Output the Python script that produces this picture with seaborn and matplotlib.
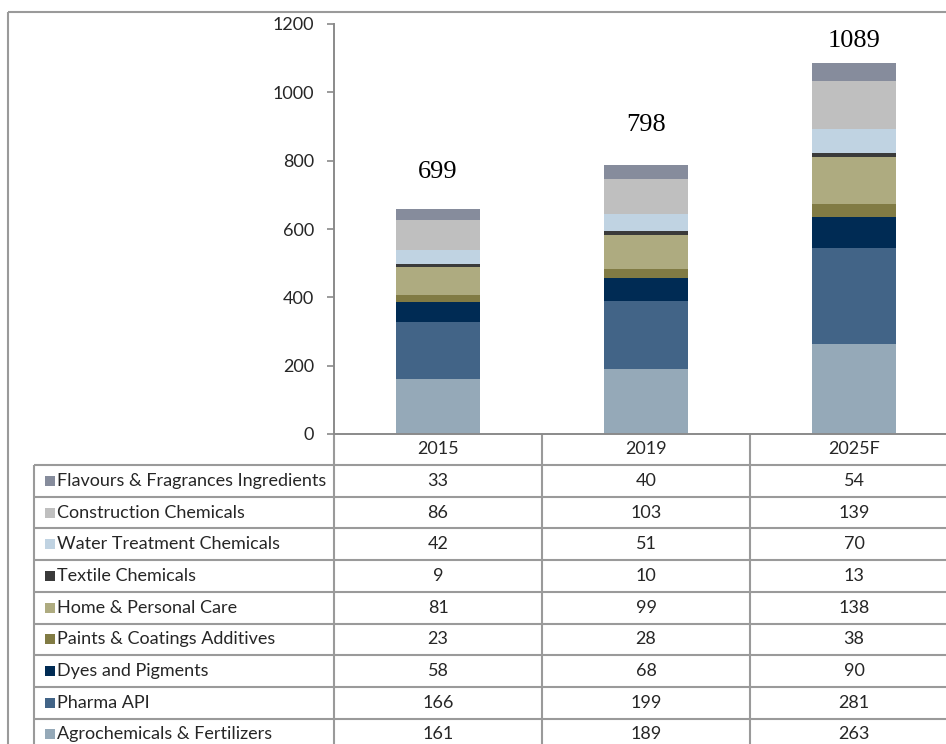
import pandas as pd
import seaborn as sns
import matplotlib.pyplot as plt

years = ["2015", "2019", "2025F"]
segments = [
    "Flavours & Fragrances Ingredients",
    "Construction Chemicals",
    "Water Treatment Chemicals",
    "Textile Chemicals",
    "Home & Personal Care",
    "Paints & Coatings Additives",
    "Dyes and Pigments",
    "Pharma API",
    "Agrochemicals & Fertilizers",
]
flavours = [33, 40, 54]
construction = [86, 103, 139]
water = [42, 51, 70]
textile = [9, 10, 13]
home_care = [81, 99, 138]
paints = [23, 28, 38]
dyes = [58, 68, 90]
pharma = [166, 199, 281]
agro = [161, 189, 263]
totals = [699, 798, 1089]

colors = ["#868c9c", "#bfbfbf", "#c0d3e2", "#3a3a3a", "#aeab80",
          "#817b44", "#002b54", "#426487", "#95a9b8"]

df = pd.DataFrame(
    [flavours, construction, water, textile, home_care, paints, dyes, pharma, agro],
    index=segments, columns=years,
)

sns.set_style("white")
plt.rcParams["font.family"] = ["Lato", "DejaVu Sans"]

W, H = 946, 744
fig = plt.figure(figsize=(W / 100, H / 100), dpi=100)

# table / frame layer in pixel coordinates
tab = fig.add_axes([0, 0, 1, 1])
tab.set_xlim(0, W)
tab.set_ylim(H, 0)
tab.axis("off")

ax = fig.add_axes([334 / W, (H - 434) / H, 624 / W, 410 / H])

# stacked bars: draw cumulative sums from the top segment down
stack = df.iloc[::-1].cumsum()
for i in range(len(segments) - 1, -1, -1):
    name = stack.index[i]
    col = colors[segments.index(name)]
    sns.barplot(x=years, y=stack.loc[name].values, color=col, width=0.4,
                linewidth=0, saturation=1, ax=ax)

ax.set_ylim(0, 1200)
ax.set_yticks(range(0, 1201, 200))
ax.set_xticks([])
ax.set_xlabel("")
ax.set_ylabel("")
sns.despine(ax=ax, top=True, right=True)
for s in ["left", "bottom"]:
    ax.spines[s].set_color("#8a8a8a")
    ax.spines[s].set_linewidth(1.4)
ax.tick_params(axis="y", length=5, width=1.2, color="#8a8a8a", pad=9.5,
               labelsize=13, labelcolor="#262626", left=True)

total_label_y = [767, 904, 1150]
for i, t in enumerate(totals):
    ax.text(i, total_label_y[i], str(t), ha="center", va="center",
            fontsize=19, family=["Liberation Serif", "DejaVu Serif"], color="black")

# outer frame
line_kw = dict(color="#9a9a9a", lw=1.5, solid_capstyle="butt")
tab.plot([8, 8], [12, H], **line_kw)
tab.plot([8, W], [12, 12], **line_kw)

# data table under the axis
col_edges = [334, 542, 750, 958]
label_left = 34
header_top, header_bot = 434, 465
row_h = 31.7

for x in col_edges[:-1]:
    tab.plot([x, x], [header_top, H], **line_kw)
tab.plot([label_left, label_left], [header_bot, H], **line_kw)
for j, yr in enumerate(years):
    cx = (col_edges[j] + col_edges[j + 1]) / 2
    tab.text(cx, (header_top + header_bot) / 2, yr, ha="center", va="center",
             fontsize=13, color="#262626")

for r, name in enumerate(segments):
    y0 = header_bot + r * row_h
    tab.plot([label_left, W], [y0, y0], **line_kw)
    yc = y0 + row_h / 2
    tab.scatter([50], [yc], marker="s", s=42, color=colors[r], linewidths=0)
    tab.text(57, yc, name, ha="left", va="center", fontsize=13, color="#262626")
    for j, yr in enumerate(years):
        cx = (col_edges[j] + col_edges[j + 1]) / 2
        tab.text(cx, yc, str(df.loc[name, yr]), ha="center", va="center",
                 fontsize=13, color="#262626")

fig.savefig("out.png", dpi=100)
